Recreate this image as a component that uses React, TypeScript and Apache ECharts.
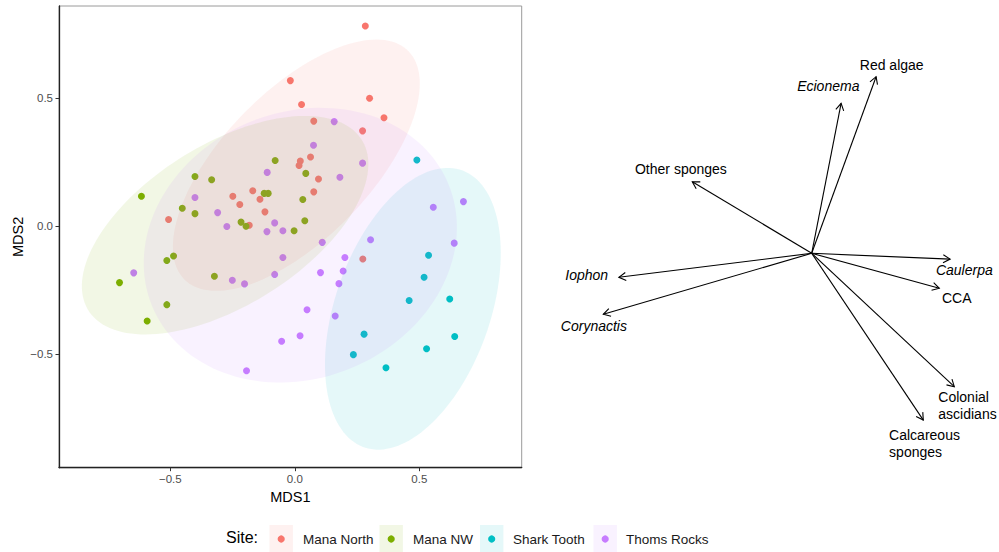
import React, { useEffect, useRef } from "react";
import * as echarts from "echarts";

// ---------- Data ----------
const sites = ["Mana North", "Mana NW", "Shark Tooth", "Thoms Rocks"];
const siteColors = ["#F8766D", "#7CAE00", "#00BFC4", "#C77CFF"];
const siteFills = ["rgba(248,118,109,0.1)", "rgba(124,174,0,0.1)", "rgba(0,191,196,0.1)", "rgba(199,124,255,0.1)"];

const manaNorth: number[][] = [
  [0.283, 0.781], [-0.018, 0.568], [0.027, 0.475], [0.300, 0.499], [0.358, 0.423],
  [0.076, 0.410], [0.272, 0.372], [0.063, 0.270], [0.022, 0.254], [0.017, 0.237],
  [0.095, 0.184], [0.076, 0.134], [-0.169, 0.138], [-0.249, 0.117], [-0.140, 0.105],
  [-0.221, 0.085], [-0.120, 0.056], [-0.507, 0.026], [-0.183, 0.004], [0.273, -0.128],
];
const manaNW: number[][] = [
  [-0.616, 0.117], [-0.401, 0.194], [-0.334, 0.181], [-0.079, 0.256], [0.044, 0.206],
  [-0.123, 0.128], [-0.107, 0.128], [0.032, 0.104], [-0.452, 0.070], [-0.401, 0.049],
  [-0.216, 0.016], [-0.196, 0.000], [0.040, 0.021], [-0.003, -0.018], [-0.487, -0.116],
  [-0.514, -0.134], [-0.704, -0.220], [-0.323, -0.195], [-0.514, -0.306], [-0.593, -0.370],
];
const sharkTooth: number[][] = [
  [0.490, 0.258], [0.537, -0.113], [0.519, -0.199], [0.459, -0.290], [0.622, -0.284],
  [0.278, -0.421], [0.642, -0.430], [0.235, -0.501], [0.529, -0.478], [0.366, -0.552],
];
const thomsRocks: number[][] = [
  [0.158, 0.408], [0.075, 0.316], [0.272, 0.246], [-0.111, 0.210], [0.181, 0.191],
  [-0.401, 0.112], [0.556, 0.074], [0.677, 0.096], [-0.310, 0.053], [-0.081, 0.013],
  [-0.273, -0.001], [-0.112, -0.021], [-0.048, -0.018], [0.110, -0.063], [0.304, -0.053],
  [0.640, -0.066], [0.201, -0.122], [-0.048, -0.122], [-0.647, -0.182], [0.103, -0.181],
  [0.194, -0.175], [-0.081, -0.188], [-0.251, -0.211], [-0.202, -0.225], [0.177, -0.224],
  [0.049, -0.326], [0.162, -0.350], [0.021, -0.427], [-0.053, -0.449], [-0.194, -0.564],
];
const siteData = [manaNorth, manaNW, sharkTooth, thomsRocks];

// Ellipses: [centerX, centerY, semiMajor, semiMinor, angleDeg]
const ellipses: number[][] = [
  [0.006, 0.238, 0.633, 0.292, 44.5],
  [-0.280, 0.004, 0.642, 0.317, 30.7],
  [0.474, -0.322, 0.575, 0.310, 69.6],
  [0.022, -0.074, 0.641, 0.521, 19.5],
];

const xTicks = [-0.5, 0, 0.5];
const yTicks = [-0.5, 0, 0.5];

// Biplot vectors
const vectorNames = ["Red algae", "Ecionema", "Other sponges", "Caulerpa", "CCA", "Colonial ascidians", "Calcareous sponges", "Iophon", "Corynactis"];
const vectorEnds: number[][] = [
  [0.322, 0.883], [0.147, 0.750], [-0.597, 0.358], [0.692, -0.029], [0.638, -0.175],
  [0.713, -0.667], [0.558, -0.834], [-0.964, -0.120], [-1.042, -0.305],
];
const labelTexts = ["Red algae", "Ecionema", "Other sponges", "Caulerpa", "CCA", "Colonial\nascidians", "Calcareous\nsponges", "Iophon", "Corynactis"];
const labelPos: number[][] = [
  [0.400, 0.942], [0.083, 0.837], [-0.654, 0.422], [0.763, -0.084], [0.725, -0.225],
  [0.633, -0.762], [0.387, -0.949], [-1.125, -0.109], [-1.089, -0.364],
];
const labelItalic = [false, true, false, true, false, false, false, true, true];
const labelAlign = ["center", "center", "center", "center", "center", "left", "left", "center", "center"];

const FONT = "'Liberation Sans', Arial, Helvetica, sans-serif";

export default function App() {
  const ref = useRef<HTMLDivElement>(null);
  useEffect(() => {
    if (!ref.current) return;
    const chart = echarts.init(ref.current, undefined, { renderer: "svg" });
    const fmt = (v: number) => (v === 0 ? "0.0" : v.toFixed(1).replace("-", "\u2212"));

    const scatterSeries = sites.map((s, i) => ({
      name: s,
      type: "scatter",
      xAxisIndex: 0,
      yAxisIndex: 0,
      symbolSize: 7,
      z: 2,
      itemStyle: { color: siteColors[i], opacity: 1 },
      data: siteData[i],
    }));

    const ellipseSeries = sites.map((s, i) => ({
      name: s + " ellipse",
      type: "custom",
      xAxisIndex: 0,
      yAxisIndex: 0,
      z: 3,
      silent: true,
      data: [ellipses[i]],
      encode: { x: 0, y: 1 },
      renderItem: (params: any, api: any) => {
        const cx = api.value(0), cy = api.value(1), a = api.value(2), b = api.value(3);
        const ang = (api.value(4) * Math.PI) / 180;
        const pts: number[][] = [];
        const n = 144;
        for (let k = 0; k < n; k++) {
          const t = (2 * Math.PI * k) / n;
          const ex = a * Math.cos(t), ey = b * Math.sin(t);
          pts.push(api.coord([cx + ex * Math.cos(ang) - ey * Math.sin(ang), cy + ex * Math.sin(ang) + ey * Math.cos(ang)]));
        }
        return { type: "polygon", shape: { points: pts }, style: { fill: siteFills[i], stroke: "none" } };
      },
    }));

    const arrowSeries = {
      name: "vectors",
      type: "custom",
      xAxisIndex: 1,
      yAxisIndex: 1,
      silent: true,
      data: vectorEnds,
      encode: { x: 0, y: 1 },
      renderItem: (params: any, api: any) => {
        const o = api.coord([0, 0]);
        const p = api.coord([api.value(0), api.value(1)]);
        const ang = Math.atan2(p[1] - o[1], p[0] - o[0]);
        const L = 8, sp = Math.PI / 6;
        const h1 = [p[0] - L * Math.cos(ang - sp), p[1] - L * Math.sin(ang - sp)];
        const h2 = [p[0] - L * Math.cos(ang + sp), p[1] - L * Math.sin(ang + sp)];
        return {
          type: "group",
          children: [
            { type: "line", shape: { x1: o[0], y1: o[1], x2: p[0], y2: p[1] }, style: { stroke: "#000", lineWidth: 1.1 } },
            { type: "polyline", shape: { points: [h1, p, h2] }, style: { stroke: "#000", fill: "none", lineWidth: 1.1 } },
          ],
        };
      },
    };

    const labelSeries = {
      name: "vector labels",
      type: "custom",
      xAxisIndex: 1,
      yAxisIndex: 1,
      silent: true,
      data: labelPos,
      encode: { x: 0, y: 1 },
      renderItem: (params: any, api: any) => {
        const i = params.dataIndex;
        const p = api.coord([api.value(0), api.value(1)]);
        return {
          type: "text",
          x: p[0],
          y: p[1],
          style: {
            text: labelTexts[i],
            fill: "#000",
            fontSize: 14,
            fontFamily: FONT,
            fontStyle: labelItalic[i] ? "italic" : "normal",
            align: labelAlign[i],
            verticalAlign: "middle",
            lineHeight: 17,
          },
        };
      },
    };

    // Legend drawn as graphics
    const keyX = [269.5, 379.5, 480, 593.5];
    const labX = [303, 413, 513, 626];
    const legendEls: any[] = [
      { type: "text", left: 226, top: 539 - 10, style: { text: "Site:", fontSize: 16, fontFamily: FONT, fill: "#000" } },
    ];
    sites.forEach((s, i) => {
      legendEls.push({ type: "rect", shape: { x: keyX[i], y: 525, width: 23.4, height: 28 }, style: { fill: siteFills[i] } });
      legendEls.push({ type: "circle", shape: { cx: keyX[i] + 11.7, cy: 539, r: 3.6 }, style: { fill: siteColors[i] } });
      legendEls.push({ type: "text", x: labX[i], y: 539, style: { text: s, fontSize: 13.5, fontFamily: FONT, fill: "#1a1a1a", verticalAlign: "middle" } });
    });

    chart.setOption({
      animation: false,
      backgroundColor: "#ffffff",
      textStyle: { fontFamily: FONT },
      grid: [
        { left: 59, top: 6, width: 462.7, height: 461.7, show: true, borderColor: "#9a9a9a", borderWidth: 1, backgroundColor: "transparent" },
        { left: 571.7, top: 13.3, width: 420, height: 460 },
      ],
      xAxis: [
        {
          type: "value", gridIndex: 0, min: -0.947, max: 0.911,
          name: "MDS1", nameLocation: "middle", nameGap: 20,
          nameTextStyle: { color: "#000", fontSize: 14.5, fontFamily: FONT },
          axisLine: { onZero: false, lineStyle: { color: "#222", width: 1.3 } },
          axisTick: { show: true, length: 3.5, customValues: xTicks, lineStyle: { color: "#333", width: 1 } },
          axisLabel: { customValues: xTicks, formatter: fmt, color: "#4D4D4D", fontSize: 11.5, margin: 5, fontFamily: FONT },
          splitLine: { show: false },
        },
        { type: "value", gridIndex: 1, min: -1.2, max: 0.9, show: false, splitLine: { show: false } },
      ],
      yAxis: [
        {
          type: "value", gridIndex: 0, min: -0.942, max: 0.859,
          name: "MDS2", nameLocation: "middle", nameGap: 34, nameRotate: 90,
          nameTextStyle: { color: "#000", fontSize: 14.5, fontFamily: FONT },
          axisLine: { onZero: false, lineStyle: { color: "#222", width: 1.3 } },
          axisTick: { show: true, length: 3.5, customValues: yTicks, lineStyle: { color: "#333", width: 1 } },
          axisLabel: { customValues: yTicks, formatter: fmt, color: "#4D4D4D", fontSize: 11.5, margin: 6, fontFamily: FONT },
          splitLine: { show: false },
        },
        { type: "value", gridIndex: 1, min: -1.1, max: 1.2, show: false, splitLine: { show: false } },
      ],
      series: [...scatterSeries, ...ellipseSeries, arrowSeries, labelSeries],
      graphic: { elements: legendEls },
    });
    return () => chart.dispose();
  }, []);
  return <div ref={ref} style={{ position: "fixed", left: 0, top: 0, width: 999, height: 552 }} />;
}
